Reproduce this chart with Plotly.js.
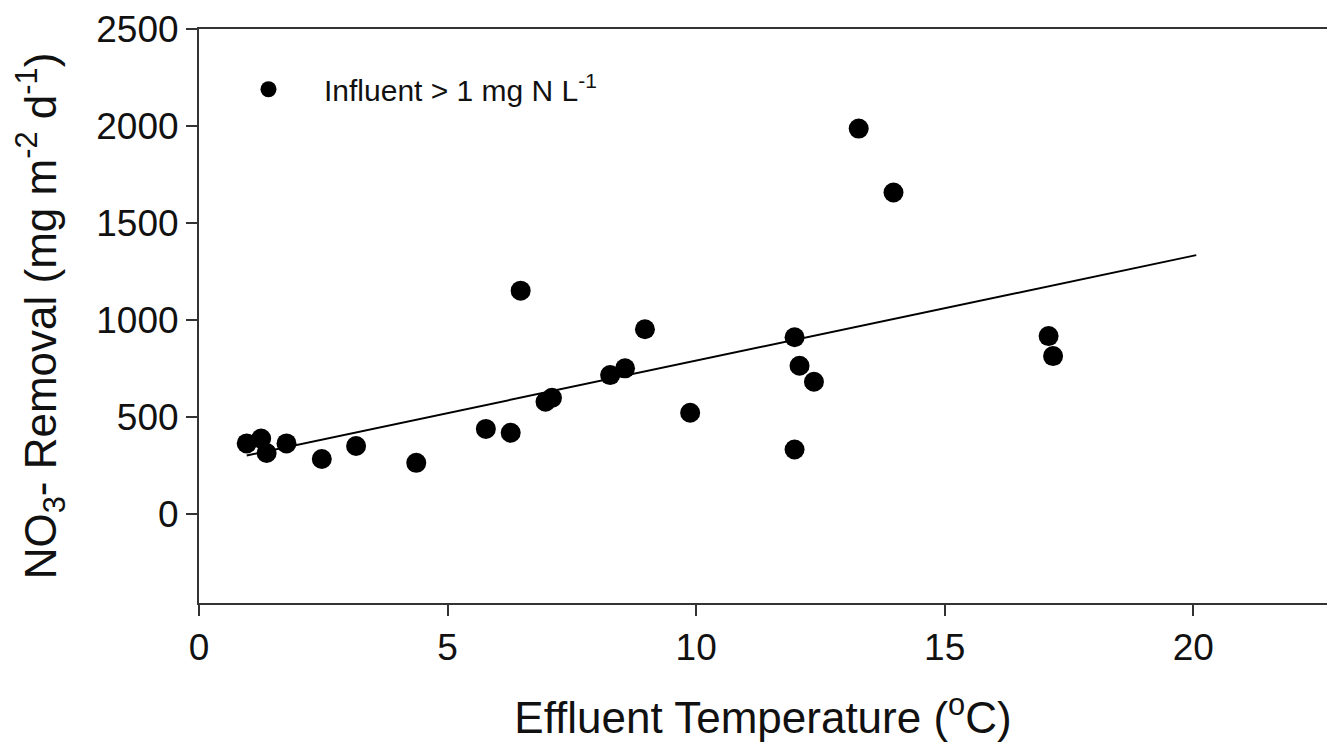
<!DOCTYPE html>
<html><head><meta charset="utf-8">
<script src="https://cdn.plot.ly/plotly-3.0.1.min.js"></script>
<style>html,body{margin:0;padding:0;background:#fff}#chart{width:1327px;height:742px}</style>
</head><body><div id="chart"></div>
<script>
// Effluent temperature (°C) and NO3- removal (mg m-2 d-1), influent > 1 mg N L-1
const temperature = [0.96, 1.25, 1.36, 1.76, 2.47, 3.16, 4.37, 5.77, 6.27, 6.47, 6.97, 7.10,
                     8.27, 8.57, 8.97, 9.88, 11.98, 11.98, 12.08, 12.37, 13.27, 13.97, 17.09, 17.18];
const removal = [365, 390, 316, 365, 285, 352, 265, 440, 420, 1152, 580, 600,
                 717, 752, 953, 523, 912, 334, 765, 683, 1987, 1658, 918, 815];
// regression line end points
const fitTemperature = [0.96, 20.06];
const fitRemoval = [303, 1335];
const xTicks = [0, 5, 10, 15, 20];
const yTicks = [0, 500, 1000, 1500, 2000, 2500];
const seriesName = 'Influent > 1 mg N L<sup>-1</sup>';

const FONT = 'Liberation Sans, Arial, sans-serif';
const traces = [
  {x: temperature, y: removal, type: 'scatter', mode: 'markers', name: seriesName,
   marker: {color: '#000', size: 20, line: {width: 0}}, showlegend: true},
  {x: fitTemperature, y: fitRemoval, type: 'scatter', mode: 'lines',
   line: {color: '#000', width: 2}, showlegend: false, hoverinfo: 'skip'}
];
const layout = {
  width: 1327, height: 742,
  margin: {l: 199, r: 0, t: 29, b: 139, pad: 0},
  paper_bgcolor: '#fff', plot_bgcolor: '#fff',
  font: {family: FONT, color: '#111'},
  showlegend: true,
  legend: {x: 0.0124, y: 0.895, xanchor: 'left', yanchor: 'middle', itemwidth: 101,
           font: {family: FONT, size: 30, color: '#111'}, bgcolor: 'rgba(0,0,0,0)', borderwidth: 0},
  xaxis: {
    range: [0, 22.69], tickvals: xTicks, ticktext: xTicks.map(String),
    ticks: 'outside', ticklen: 11, tickwidth: 2, tickcolor: '#333',
    showline: true, linecolor: '#333', linewidth: 2, mirror: true,
    showgrid: false, zeroline: false,
    tickfont: {family: FONT, size: 37, color: '#111'},
    title: {text: 'Effluent Temperature (<sup>o</sup>C)', font: {family: FONT, size: 44, color: '#111'}, standoff: 38}
  },
  yaxis: {
    range: [-457, 2500], tickvals: yTicks, ticktext: yTicks.map(String),
    ticks: 'outside', ticklen: 11, tickwidth: 2, tickcolor: '#333',
    showline: true, linecolor: '#333', linewidth: 2, mirror: false,
    showgrid: false, zeroline: false,
    tickfont: {family: FONT, size: 37, color: '#111'},
    title: {text: 'NO<sub>3</sub>- Removal (mg m<sup>-2</sup> d<sup>-1</sup>)', font: {family: FONT, size: 44, color: '#111'}, standoff: 26}
  }
};
Plotly.newPlot('chart', traces, layout, {displayModeBar: false});
</script></body></html>
